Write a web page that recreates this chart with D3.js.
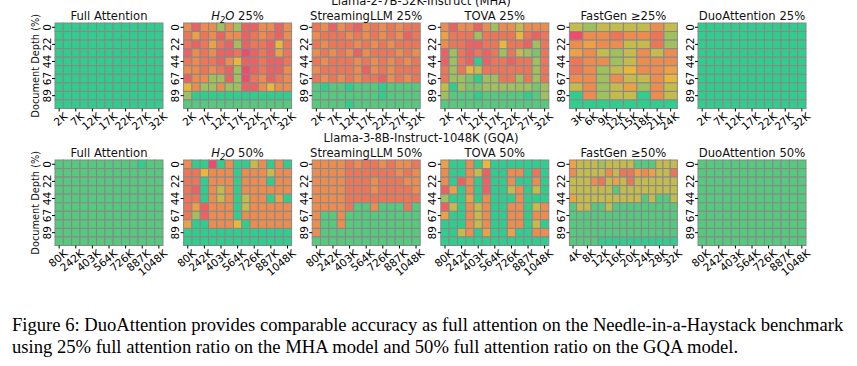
<!DOCTYPE html>
<html>
<head>
<meta charset="utf-8">
<script src="https://cdn.jsdelivr.net/npm/d3@7"></script>
<style>
  body { margin: 0; background: #fff; }
  text { font-family: "DejaVu Sans", sans-serif; }
</style>
</head>
<body>
<div class="canvas"></div>
<script>
// rows of every heatmap = needle depth (%)
const depths = [0, 11, 22, 33, 44, 56, 67, 78, 89, 100];
const depthTicks = [0, 22, 44, 67, 89];

// context lengths (K tokens), one per column
const mhaLens = [2, 4.5, 7, 9.5, 12, 14.5, 17, 19.5, 22, 24.5, 27, 29.5, 32];
const mhaTicks = [2, 7, 12, 17, 22, 27, 32];
const gqaLens = [80, 161, 242, 322, 403, 484, 564, 645, 726, 807, 887, 968, 1048];
const gqaTicks = [80, 242, 403, 564, 726, 887, 1048];
const fastgenMhaLens = [3, 6, 9, 12, 15, 18, 21, 24];
const fastgenMhaTicks = [3, 6, 9, 12, 15, 18, 21, 24];
const fastgenGqaLens = [4, 6, 8, 10, 12, 14, 16, 18, 20, 22, 24, 26, 28, 30, 32];
const fastgenGqaTicks = [4, 8, 12, 16, 20, 24, 28, 32];

// scores 0..10, one char per cell ('a' = 10), one string per depth row
const fullMha = ['aaaaaaaaaaaaa', 'aaaaaaaaaaaaa', 'aaaaaaaaaaaaa', 'aaaaaaaaaaaaa', 'aaaaaaaaaaaaa',
  'aaaaaaaaaaaaa', 'aaaaaaaaaaaaa', 'aaaaaaaaaaaaa', 'aaaaaaaaaaaaa', 'aaaaaaaaaaaaa'];
const h2oMha = ['3133737113313', '2423133123213', '2124217122152', '1323112012142', '2322135112112',
  '3323217012113', '1337717023123', '5377377113533', '7aaaaaaaaaaaa', '9999999999999'];
const streamMha = ['2313213232322', '3222323232312', '2322232323222', '3232313222323', '2322232323232',
  '3222231323222', '2323232213232', '9a99a999a9999', '99999999a9999', '9999a99999999'];
const tovaMha = ['3133137336333', '4222722225212', '3221122522172', '1721212726782', '1721a12212272',
  '2725622222272', '2778a77227272', '6a78877777787', '7999a99999a97', '9999999999999'];
const fastgenMha = ['67666636', '03323327', '34336627', '43676363', '23376333',
  '23765334', '33736635', '63764736', 'a3766a36', 'aaaaaaaa'];
const duoMha = ['aaaaaaaaaaaaa', 'aaaaaaaaaaaaa', 'aaaaaaaaaaaaa', 'aaaaaaaaaaaaa', 'aaaaaaaaaaaaa',
  'aaaaaaaaaaaaa', 'aaaaaaaaaaaaa', 'aaaaaaaaaaaaa', 'aaaaaaaaaaaaa', 'aaaaaaaaaaaaa'];

const fullGqa = ['9999999999a99', '9999999999999', '9999999999999', '9999999999999', '9999999999999',
  '9999999999999', '9999999999999', '9999999999999', '9999999999999', '9999999999999'];
const h2oGqa = ['3aa0a3aa63a3a', '225333a333633', '22a333a333a33', '21a363a333333', '22a363a633a4a',
  '241333a633333', '271333a333333', '4aa3335a33333', 'aaaaaaaaaaaaa', 'aaaaaaaaaaaaa'];
const streamGqa = ['3333232232332', '3333222222323', '3333222322233', '3333222322223', '3333222222222',
  '3333299399929', '3993999999999', '3993999999999', '3999999999999', '9999999999999'];
const tovaGqa = ['4aa3a5aaaaaaa', '3aa361aa33a2a', '3a13a1aa3aa3a', '14a3a1aa63a6a', '7aa4a3aaa3aaa',
  '16a363aa33a63', '4aa363aa33a33', 'aaa363aa33a6a', 'aa63a4aa4aa33', 'aaaaaaaaaaaaa'];
const fastgenGqa = ['466676666999666', '366663622434662', '666326462666666', '666666966666666', '466666666696996',
  '966996999999999', '999999999999999', '999999999999999', '999999999999999', '9999aaaaaaaaaaa'];
const duoGqa = ['9999999999999', '9999999999999', '9999999999999', '9999999999999', '9999999999999',
  '9999999999999', '9999999999999', '9999999999999', '9999999999999', '9999999999999'];

const suptitles = ['Llama-2-7B-32K-Instruct (MHA)', 'Llama-3-8B-Instruct-1048K (GQA)'];

const panels = [
  [
    { title: 'Full Attention', lens: mhaLens, ticks: mhaTicks, scores: fullMha },
    { title: 'h2o', ratio: '25%', lens: mhaLens, ticks: mhaTicks, scores: h2oMha },
    { title: 'StreamingLLM 25%', lens: mhaLens, ticks: mhaTicks, scores: streamMha },
    { title: 'TOVA 25%', lens: mhaLens, ticks: mhaTicks, scores: tovaMha },
    { title: 'FastGen \u226525%', lens: fastgenMhaLens, ticks: fastgenMhaTicks, scores: fastgenMha },
    { title: 'DuoAttention 25%', lens: mhaLens, ticks: mhaTicks, scores: duoMha }
  ],
  [
    { title: 'Full Attention', lens: gqaLens, ticks: gqaTicks, scores: fullGqa },
    { title: 'h2o', ratio: '50%', lens: gqaLens, ticks: gqaTicks, scores: h2oGqa },
    { title: 'StreamingLLM 50%', lens: gqaLens, ticks: gqaTicks, scores: streamGqa },
    { title: 'TOVA 50%', lens: gqaLens, ticks: gqaTicks, scores: tovaGqa },
    { title: 'FastGen \u226550%', lens: fastgenGqaLens, ticks: fastgenGqaTicks, scores: fastgenGqa },
    { title: 'DuoAttention 50%', lens: gqaLens, ticks: gqaTicks, scores: duoGqa }
  ]
];

const width = 857, height = 366;
const panelW = 108, panelH = 85.5;
const left0 = 55, stepX = 128.6;
const rowTop = [23, 160];
const tickFont = 10.6;

const color = d3.scaleLinear()
  .domain([0, 5, 10])
  .range(['#EE4C6C', '#EBB63C', '#2FCE8E']);

const svg = d3.select('.canvas')
  .append('svg')
  .attr('width', width)
  .attr('height', height);

// model titles
svg.selectAll('.suptitle')
  .data(suptitles)
  .enter().append('text')
  .attr('class', 'suptitle')
  .attr('x', 421)
  .attr('y', (d, i) => i === 0 ? 5 : 142)
  .attr('text-anchor', 'middle')
  .attr('font-size', 11.6)
  .attr('fill', '#111')
  .text(d => d);

panels.forEach((row, r) => {
  row.forEach((p, c) => {
    const g = svg.append('g')
      .attr('transform', `translate(${left0 + c * stepX}, ${rowTop[r]})`);

    const x = d3.scaleBand().domain(p.lens).range([0, panelW]);
    const y = d3.scaleBand().domain(depths).range([0, panelH]);

    const cells = [];
    p.scores.forEach((s, i) => {
      s.split('').forEach((ch, j) => {
        cells.push({ depth: depths[i], len: p.lens[j], score: parseInt(ch, 11) });
      });
    });

    g.selectAll('rect')
      .data(cells)
      .enter().append('rect')
      .attr('x', d => x(d.len))
      .attr('y', d => y(d.depth))
      .attr('width', x.bandwidth())
      .attr('height', y.bandwidth())
      .attr('fill', d => color(d.score))
      .attr('stroke', '#888')
      .attr('stroke-width', 1);

    // title
    const t = g.append('text')
      .attr('x', panelW / 2)
      .attr('y', -3)
      .attr('text-anchor', 'middle')
      .attr('font-size', 11.6)
      .attr('fill', '#111');
    if (p.title === 'h2o') {
      t.append('tspan').attr('font-style', 'italic').text('H');
      t.append('tspan').attr('font-size', 8.2).attr('dy', 2.5).attr('font-style', 'italic').text('2');
      t.append('tspan').attr('dy', -2.5).attr('font-style', 'italic').text('O');
      t.append('tspan').text(' ' + p.ratio);
    } else {
      t.text(p.title);
    }

    // axes
    const yAxis = d3.axisLeft(y).tickValues(depthTicks).tickSize(3).tickPadding(2);
    const yg = g.append('g').call(yAxis);
    yg.select('.domain').remove();
    yg.selectAll('text')
      .attr('x', null).attr('dy', null)
      .attr('text-anchor', 'middle')
      .attr('transform', 'translate(-4.5, 0) rotate(-90)')
      .attr('font-size', tickFont)
      .attr('font-family', '"DejaVu Sans", sans-serif');

    const xAxis = d3.axisBottom(x).tickValues(p.ticks).tickSize(3).tickFormat(d => d + 'K');
    const xg = g.append('g').attr('transform', `translate(0, ${panelH})`).call(xAxis);
    xg.select('.domain').remove();
    xg.selectAll('text')
      .attr('y', 0)
      .attr('dy', '0.75em')
      .attr('text-anchor', 'end')
      .attr('transform', 'translate(4, 3) rotate(-40)')
      .attr('font-size', tickFont)
      .attr('font-family', '"DejaVu Sans", sans-serif');

    if (c === 0) {
      g.append('text')
        .attr('transform', `translate(-16, ${panelH / 2}) rotate(-90)`)
        .attr('text-anchor', 'middle')
        .attr('font-size', 9.8)
        .attr('fill', '#111')
        .text('Document Depth (%)');
    }
  });
});

// caption
const caption = [
  'Figure 6: DuoAttention provides comparable accuracy as full attention on the Needle-in-a-Haystack benchmark',
  'using 25% full attention ratio on the MHA model and 50% full attention ratio on the GQA model.'
];
svg.selectAll('.caption')
  .data(caption)
  .enter().append('text')
  .attr('class', 'caption')
  .attr('x', 12)
  .attr('y', (d, i) => 331 + i * 21.5)
  .attr('font-size', 18.6)
  .attr('fill', '#000')
  .style('font-family', '"Liberation Serif", "Times New Roman", serif')
  .text(d => d);
</script>
</body>
</html>
